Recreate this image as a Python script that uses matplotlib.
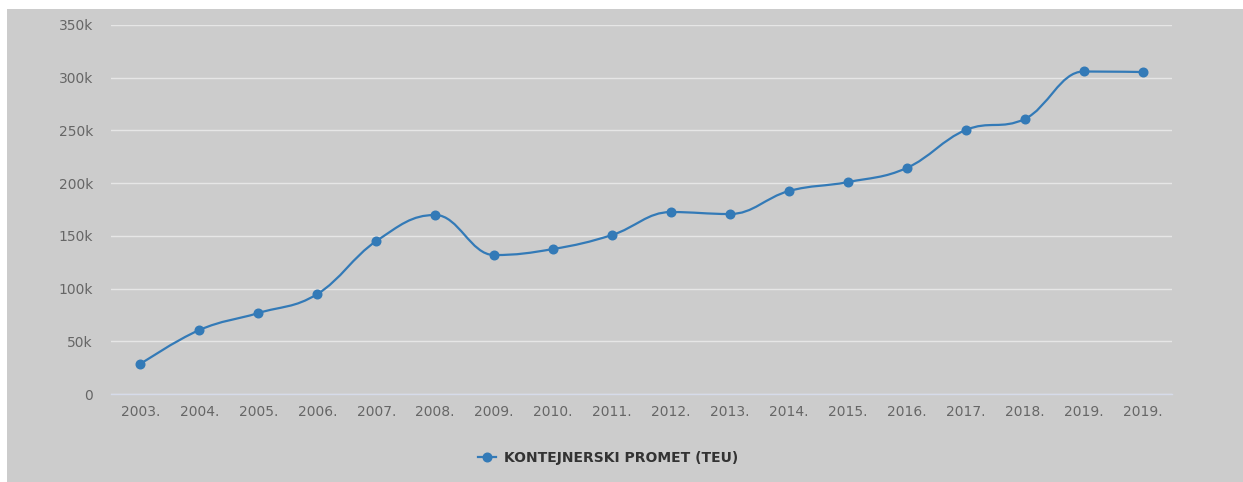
import matplotlib.pyplot as plt
from matplotlib.path import Path
from matplotlib.patches import PathPatch, Rectangle
from matplotlib.lines import Line2D

# podaci - kontejnerski promet po godinama
godine = ['2003.', '2004.', '2005.', '2006.', '2007.', '2008.', '2009.', '2010.', '2011.',
          '2012.', '2013.', '2014.', '2015.', '2016.', '2017.', '2018.', '2019.', '2019.']
teu = [28500, 60700, 76800, 94800, 145000, 169800, 131800, 137500, 150800,
       172600, 170700, 192500, 201000, 214400, 250400, 260800, 305900, 305400]
y_ticks = [0, 50000, 100000, 150000, 200000, 250000, 300000, 350000]
y_labels = ['0', '50k', '100k', '150k', '200k', '250k', '300k', '350k']

boja = '#337ab7'


def spline_path(xs, ys, smoothing=1.5):
    # kontrolne tocke kao kod Highcharts "spline"
    n = len(xs)
    left = [(xs[i], ys[i]) for i in range(n)]
    right = [(xs[i], ys[i]) for i in range(n)]
    d = smoothing + 1
    for i in range(1, n - 1):
        x, y = xs[i], ys[i]
        lx, ly = xs[i - 1], ys[i - 1]
        nx, ny = xs[i + 1], ys[i + 1]
        lcx = (smoothing * x + lx) / d
        lcy = (smoothing * y + ly) / d
        rcx = (smoothing * x + nx) / d
        rcy = (smoothing * y + ny) / d
        corr = 0
        if rcx != lcx:
            corr = (rcy - lcy) * (rcx - x) / (rcx - lcx) + y - rcy
        lcy += corr
        rcy += corr
        if lcy > ly and lcy > y:
            lcy = max(ly, y)
            rcy = 2 * y - lcy
        elif lcy < ly and lcy < y:
            lcy = min(ly, y)
            rcy = 2 * y - lcy
        if rcy > ny and rcy > y:
            rcy = max(ny, y)
            lcy = 2 * y - rcy
        elif rcy < ny and rcy < y:
            rcy = min(ny, y)
            lcy = 2 * y - rcy
        left[i] = (lcx, lcy)
        right[i] = (rcx, rcy)
    verts = [(xs[0], ys[0])]
    codes = [Path.MOVETO]
    for i in range(1, n):
        verts += [right[i - 1], left[i], (xs[i], ys[i])]
        codes += [Path.CURVE4] * 3
    return Path(verts, codes)


fig = plt.figure(figsize=(12.43, 4.82), dpi=100, facecolor='white')
fig.patches.append(Rectangle((7 / 1243, 0), 1, 1 - 9 / 482, transform=fig.transFigure,
                             facecolor='#cccccc', edgecolor='none', zorder=-10))
ax = fig.add_axes([111 / 1243, 1 - 394 / 482, (1172 - 111) / 1243, (394 - 25) / 482])
ax.set_facecolor('none')

x = list(range(len(godine)))
ax.add_patch(PathPatch(spline_path(x, teu), facecolor='none', edgecolor=boja, lw=1.6,
                       zorder=3, capstyle='round', joinstyle='round'))
ax.plot(x, teu, 'o', color=boja, markersize=6.2, zorder=4)

ax.set_xlim(-0.5, len(godine) - 0.5)
ax.set_ylim(0, 350000)
ax.set_yticks(y_ticks)
ax.set_yticklabels(y_labels)
ax.set_xticks(x)
ax.set_xticklabels(godine)
ax.tick_params(axis='both', length=0, labelsize=10, labelcolor='#666666')
ax.tick_params(axis='y', pad=13)
ax.tick_params(axis='x', pad=8)
ax.grid(axis='y', color='#e6e6e6', lw=1)
ax.set_axisbelow(True)
for s in ['top', 'right', 'left']:
    ax.spines[s].set_visible(False)
ax.spines['bottom'].set_color('#d6dbea')
ax.spines['bottom'].set_linewidth(1)

handle = Line2D([], [], color=boja, lw=1.6, marker='o', markersize=6.2)
leg = fig.legend([handle], ['KONTEJNERSKI PROMET (TEU)'], loc='center', bbox_to_anchor=(0.489, 24 / 482),
                 frameon=False, handlelength=1.3, handletextpad=0.6, prop={'weight': 'bold', 'size': 10})
for t in leg.get_texts():
    t.set_color('#333333')

fig.savefig('out.png', dpi=100, facecolor=fig.get_facecolor())
